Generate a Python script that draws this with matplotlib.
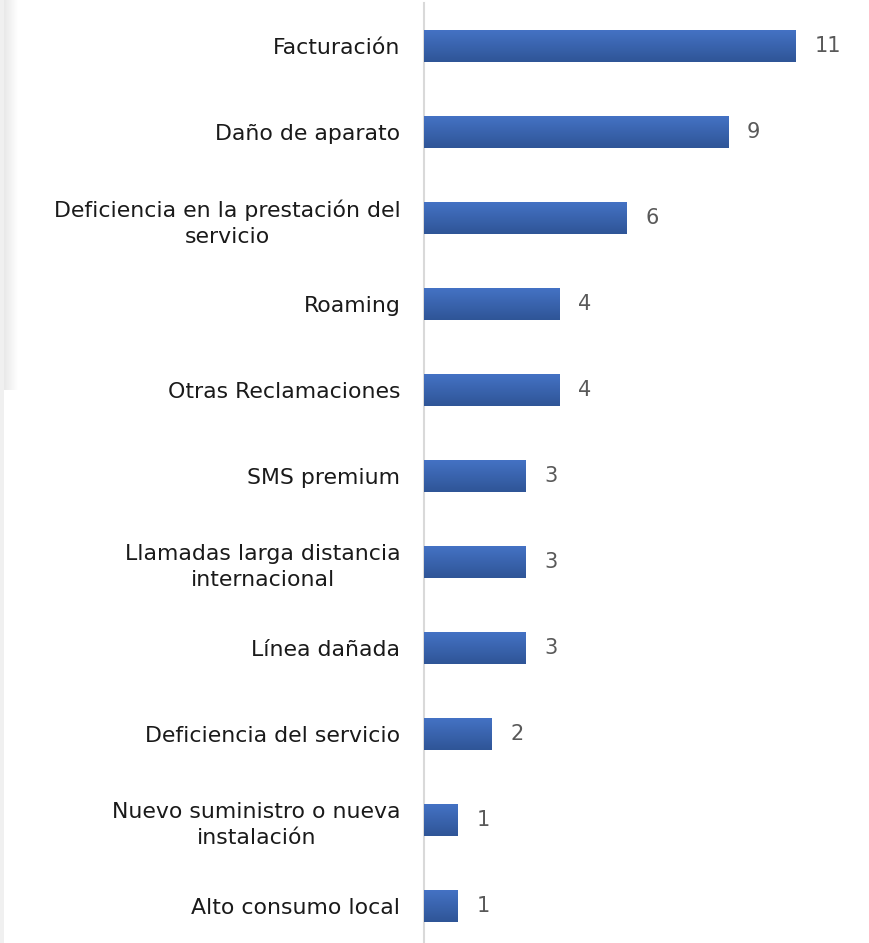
import matplotlib
matplotlib.use("Agg")
import matplotlib.pyplot as plt
import numpy as np
from matplotlib.patches import Rectangle

categories = [
    "Facturación",
    "Daño de aparato",
    "Deficiencia en la prestación del\nservicio",
    "Roaming",
    "Otras Reclamaciones",
    "SMS premium",
    "Llamadas larga distancia\ninternacional",
    "Línea dañada",
    "Deficiencia del servicio",
    "Nuevo suministro o nueva\ninstalación",
    "Alto consumo local",
]
values = [11, 9, 6, 4, 4, 3, 3, 3, 2, 1, 1]

W, H = 869, 943
fig = plt.figure(figsize=(W / 100, H / 100), dpi=100)
fig.patch.set_facecolor("white")

# left shadow strip
fig.patches.append(Rectangle((0, 0), 4 / W, 1, transform=fig.transFigure,
                             facecolor="#F0F0F0", edgecolor="none", zorder=0))
grad = np.linspace(0, 1, 50).reshape(1, -1)
ax_sh = fig.add_axes([0, 1 - 390 / H, 18 / W, 390 / H])
ax_sh.imshow(grad, aspect="auto", cmap=matplotlib.colors.LinearSegmentedColormap.from_list(
    "sh", ["#E2E2E2", "#FFFFFF"]), extent=[0, 1, 0, 1])
ax_sh.axis("off")

left = 424 / W
bottom_px = 949
ax = fig.add_axes([left, (H - bottom_px) / H, (W - 424) / W, (bottom_px - 3) / H])
ax.set_facecolor("none")

y = np.arange(len(categories))
bars = ax.barh(y, values, height=0.372, color="#3B64B0", edgecolor="none", zorder=2)
unit = 33.8

# gradient fill in bars
cmap = matplotlib.colors.LinearSegmentedColormap.from_list("b", ["#4472C4", "#2F5597"])
gimg = np.linspace(0, 1, 64).reshape(-1, 1)
for b in bars:
    x0, y0 = b.get_x(), b.get_y()
    w, h = b.get_width(), b.get_height()
    im = ax.imshow(gimg, aspect="auto", cmap=cmap, extent=[x0, x0 + w, y0 + h, y0],
                   zorder=3, interpolation="bilinear")
    im.set_clip_path(b)
ax.set_ylim(len(categories) - 0.5, -0.5)
ax.set_xlim(0, (W - 424) / unit)

font = "DejaVu Sans"
ax.set_yticks(y)
ax.set_yticklabels(categories, fontsize=15.8, color="#1A1A1A", family=font,
                   multialignment="center", linespacing=1.4)
ax.tick_params(axis="y", length=0, pad=17)
ax.set_xticks([])
for s in ["top", "right", "bottom"]:
    ax.spines[s].set_visible(False)
ax.spines["left"].set_color("#D9D9D9")
ax.spines["left"].set_linewidth(1.5)

for yi, v in zip(y, values):
    ax.text(v + 0.55, yi, str(v), va="center", ha="left", fontsize=15,
            color="#595959", family=font)

fig.savefig("out.png", dpi=100)
